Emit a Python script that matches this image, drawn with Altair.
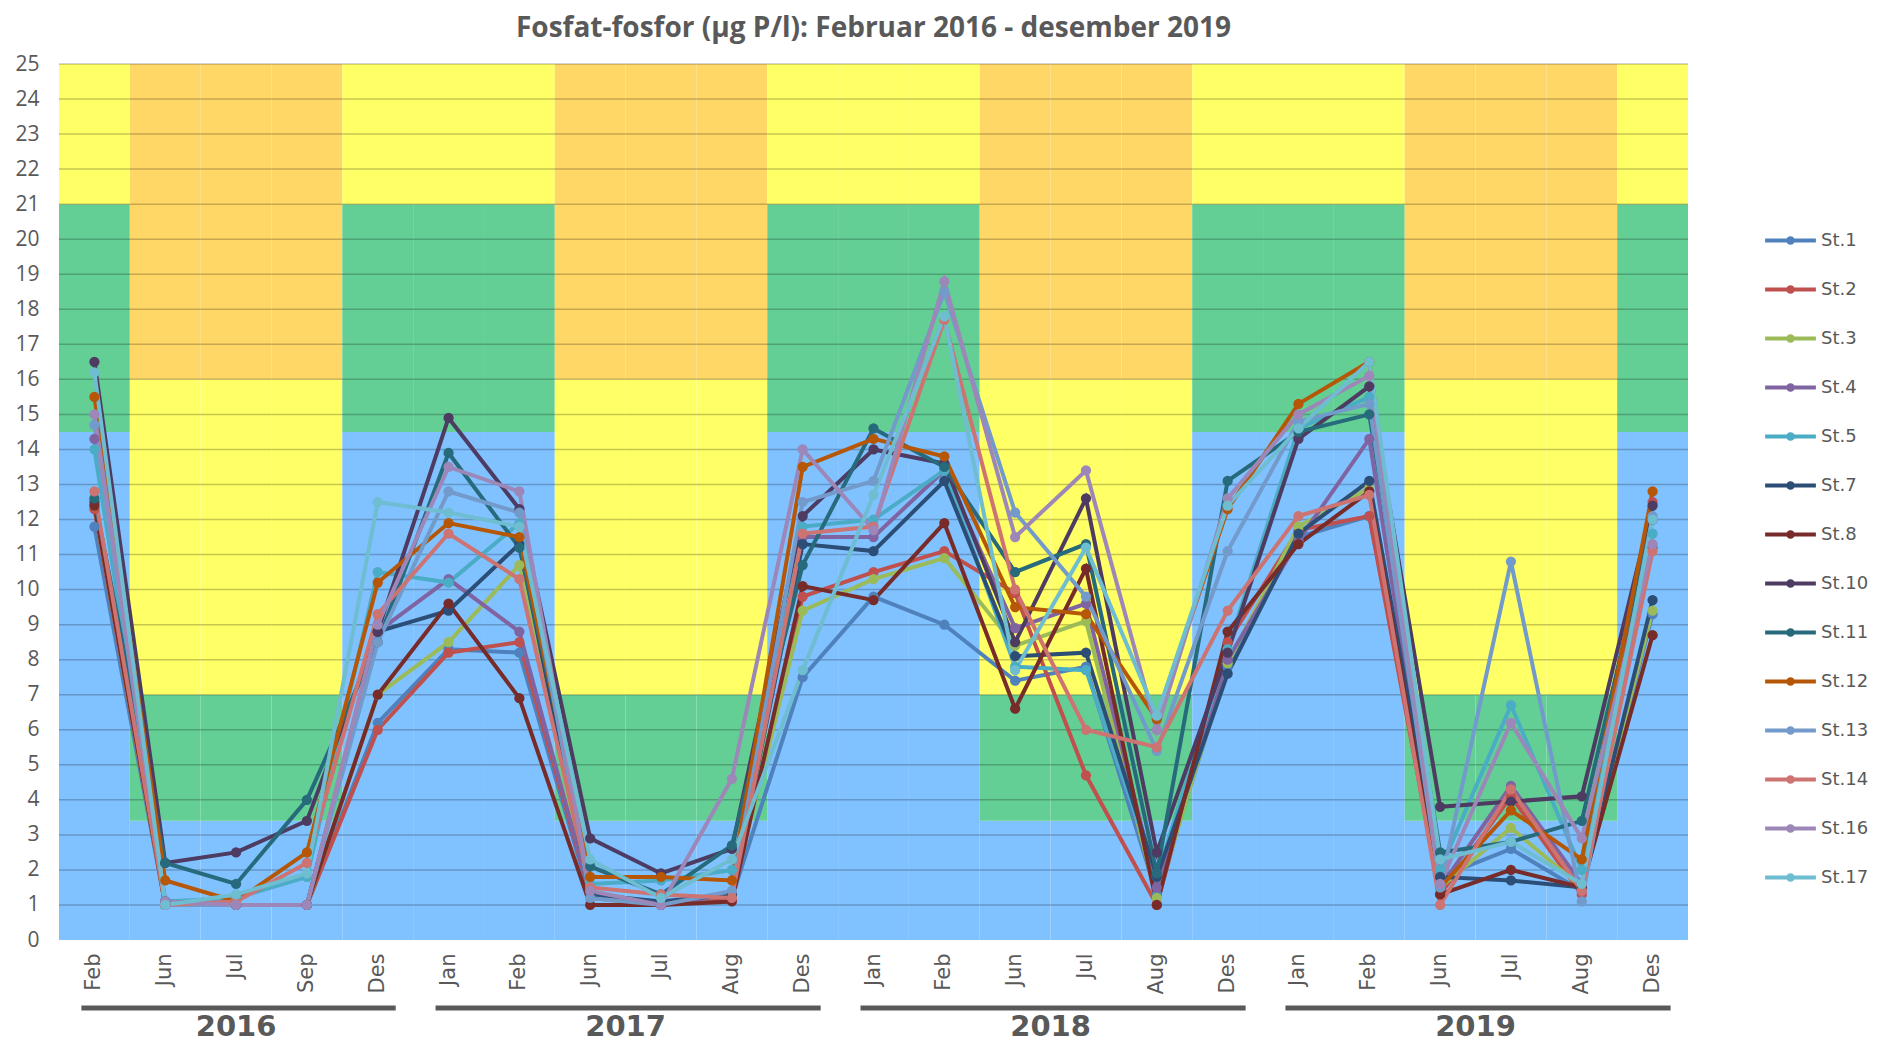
import altair as alt
import pandas as pd

# ---------------- data ----------------
years = ["2016", "2017", "2018", "2019"]
months_by_year = [
    ["Feb", "Jun", "Jul", "Sep", "Des"],
    ["Jan", "Feb", "Jun", "Jul", "Aug", "Des"],
    ["Jan", "Feb", "Jun", "Jul", "Aug", "Des"],
    ["Jan", "Feb", "Jun", "Jul", "Aug", "Des"],
]
stations = ["St.1", "St.2", "St.3", "St.4", "St.5", "St.7", "St.8",
            "St.10", "St.11", "St.12", "St.13", "St.14", "St.16", "St.17"]
colors = ["#4F81BD", "#C0504D", "#9BBB59", "#8064A2", "#4BACC6", "#2C4D75", "#772C2A",
          "#4D3B62", "#276A7C", "#B65708", "#729ACA", "#CD7371", "#9C87B8", "#6EBDD1"]

st1  = [11.8, 1.0, 1.0, 1.0, 6.2, 8.3, 8.2, 1.2, 1.0, 1.2, 7.5, 9.8, 9.0, 7.4, 7.8, 1.3, 7.8, 11.5, 12.1, 1.8, 2.6, 1.4, 9.3]
st2  = [12.3, 1.0, 1.0, 1.0, 6.0, 8.2, 8.5, 1.3, 1.0, 1.2, 9.8, 10.5, 11.1, 9.9, 4.7, 1.0, 8.5, 11.7, 12.1, 1.3, 4.1, 1.3, 12.5]
st3  = [12.4, 1.0, 1.0, 1.0, 7.0, 8.5, 10.7, 1.2, 1.0, 1.3, 9.4, 10.3, 10.9, 8.4, 9.1, 1.2, 7.9, 11.8, 12.9, 1.5, 3.2, 1.5, 9.4]
st4  = [14.3, 1.0, 1.0, 1.0, 8.8, 10.3, 8.8, 1.3, 1.0, 1.3, 11.5, 11.5, 13.4, 8.9, 9.6, 1.5, 8.0, 11.4, 14.3, 1.5, 4.4, 1.6, 11.2]
st5  = [14.0, 1.1, 1.2, 1.8, 10.5, 10.2, 11.9, 1.6, 1.7, 2.0, 11.8, 12.0, 13.4, 7.8, 7.7, 1.8, 8.3, 14.6, 15.5, 2.0, 6.7, 2.0, 11.6]
st7  = [12.5, 1.1, 1.0, 1.0, 8.8, 9.4, 11.3, 1.3, 1.1, 1.3, 11.3, 11.1, 13.1, 8.1, 8.2, 1.8, 7.6, 11.6, 13.1, 1.8, 1.7, 1.5, 9.7]
st8  = [12.4, 1.0, 1.0, 1.0, 7.0, 9.6, 6.9, 1.0, 1.0, 1.1, 10.1, 9.7, 11.9, 6.6, 10.6, 1.0, 8.8, 11.3, 12.8, 1.3, 2.0, 1.5, 8.7]
st10 = [16.5, 2.2, 2.5, 3.4, 8.8, 14.9, 12.3, 2.9, 1.9, 2.6, 12.1, 14.0, 13.6, 8.5, 12.6, 2.5, 8.2, 14.3, 15.8, 3.8, 3.95, 4.1, 12.4]
st11 = [12.6, 2.2, 1.6, 4.0, 8.5, 13.9, 11.2, 2.1, 1.3, 2.7, 10.7, 14.6, 13.5, 10.5, 11.3, 1.9, 13.1, 14.5, 15.0, 2.5, 2.8, 3.4, 12.0]
st12 = [15.5, 1.7, 1.1, 2.5, 10.2, 11.9, 11.5, 1.8, 1.8, 1.7, 13.5, 14.3, 13.8, 9.5, 9.3, 6.3, 12.3, 15.3, 16.5, 1.5, 3.7, 2.3, 12.8]
st13 = [14.7, 1.0, 1.0, 1.0, 8.5, 12.8, 12.2, 1.2, 1.0, 1.4, 12.5, 13.1, 18.5, 12.2, 9.8, 5.4, 11.1, 14.8, 15.3, 1.5, 10.8, 1.1, 12.1]
st14 = [12.8, 1.0, 1.1, 2.2, 9.3, 11.6, 10.3, 1.5, 1.3, 1.2, 11.6, 11.8, 17.7, 10.0, 6.0, 5.5, 9.4, 12.1, 12.7, 1.0, 4.3, 1.4, 11.1]
st16 = [15.0, 1.1, 1.0, 1.0, 9.0, 13.5, 12.8, 1.4, 1.0, 4.6, 14.0, 11.7, 18.8, 11.5, 13.4, 6.0, 12.6, 15.0, 16.1, 1.6, 6.2, 2.9, 11.3]
st17 = [16.2, 1.0, 1.3, 1.9, 12.5, 12.2, 11.8, 2.3, 1.2, 2.3, 7.7, 12.7, 17.8, 7.7, 11.2, 6.4, 12.4, 14.6, 16.5, 2.3, 2.8, 1.6, 12.0]
series = [st1, st2, st3, st4, st5, st7, st8, st10, st11, st12, st13, st14, st16, st17]

# class limits (µg P/l) for winter (Des-Feb) and summer (Jun-Aug/Sep)
winter_limits = [0, 14.5, 21, 25]
winter_colors = ["#80C1FF", "#63CF95", "#FFFF66"]
summer_limits = [0, 3.4, 7, 16, 25]
summer_colors = ["#80C1FF", "#63CF95", "#FFFF66", "#FFD766"]
winter_months = ["Des", "Jan", "Feb"]

grid_levels = list(range(1, 26))
y_ticks = list(range(0, 26))
title_text = "Fosfat-fosfor (µg P/l): Februar 2016 - desember 2019"

# ---------------- tables ----------------
keys = []
for y, ms in zip(years, months_by_year):
    for m in ms:
        keys.append(f"{y}-{m}")

long_rows = []
for st, vals in zip(stations, series):
    for k, v in zip(keys, vals):
        long_rows.append({"cat": k, "station": st, "value": v})
df = pd.DataFrame(long_rows)

band_rows = []
for k in keys:
    m = k.split("-")[1]
    if m in winter_months:
        lims, cols = winter_limits, winter_colors
    else:
        lims, cols = summer_limits, summer_colors
    for i in range(len(cols)):
        band_rows.append({"cat": k, "lo": lims[i], "hi": lims[i + 1], "col": cols[i]})
bands = pd.DataFrame(band_rows)

grid_df = pd.DataFrame({"level": grid_levels})

year_rows = []
for y, ms in zip(years, months_by_year):
    year_rows.append({"year": y, "first": f"{y}-{ms[0]}", "last": f"{y}-{ms[-1]}",
                      "mid": f"{y}-Jul", "odd": len(ms) % 2 == 1})
years_df = pd.DataFrame(year_rows)

W, H = 1629, 876
grey = "#595959"

xscale = alt.Scale(domain=keys, paddingInner=0, paddingOuter=0)
yscale = alt.Scale(domain=[0, 25], nice=False, zero=True)

xaxis = alt.Axis(labelExpr="split(datum.label, '-')[1]", labelAngle=270,
                 labelFont="DejaVu Sans", labelFontSize=21, labelColor=grey,
                 ticks=False, domain=False, grid=False, labelPadding=13, title=None)
yaxis = alt.Axis(values=y_ticks, labelFont="Open Sans", labelFontSize=21, labelColor=grey,
                 labelOverlap=False, ticks=False, domain=False, grid=False,
                 labelPadding=20, title=None)

bg = alt.Chart(bands).mark_rect().encode(
    x=alt.X("cat:N", scale=xscale, sort=keys, axis=xaxis),
    y=alt.Y("lo:Q", scale=yscale, axis=yaxis),
    y2="hi:Q",
    fill=alt.Fill("col:N", scale=None, legend=None),
)

grid = alt.Chart(grid_df).mark_rule(color="#000000", opacity=0.22, strokeWidth=1.5).encode(
    y=alt.Y("level:Q", scale=yscale, axis=yaxis),
    x=alt.value(0), x2=alt.value(W),
)

color_scale = alt.Scale(domain=stations, range=colors)
# line with a dot (dot drawn as a thick-stroked small circle)
sym = "M-1.08,0L1.08,0M-0.1,0A0.1,0.1 0 1,1 0.1,0A0.1,0.1 0 1,1 -0.1,0"
legend = alt.Legend(title=None, orient="none", legendX=1706, legendY=151,
                    symbolType=sym, symbolSize=2209, symbolStrokeWidth=4,
                    labelFont="DejaVu Sans", labelFontSize=18, labelColor=grey,
                    labelOffset=5, rowPadding=13, padding=0)

lines = alt.Chart(df).mark_line(strokeWidth=4).encode(
    x=alt.X("cat:N", scale=xscale, sort=keys, axis=xaxis),
    y=alt.Y("value:Q", scale=yscale, axis=yaxis),
    color=alt.Color("station:N", scale=color_scale, sort=stations, legend=legend),
)

points = alt.Chart(df).mark_circle(size=105, opacity=1).encode(
    x=alt.X("cat:N", scale=xscale, sort=keys, axis=xaxis),
    y=alt.Y("value:Q", scale=yscale, axis=yaxis),
    color=alt.Color("station:N", scale=color_scale, sort=stations, legend=legend),
)

yearbars = alt.Chart(years_df).mark_rule(color=grey, strokeWidth=5, xOffset=-13, x2Offset=18).encode(
    x=alt.X("first:N", scale=xscale, sort=keys, axis=xaxis),
    x2="last:N",
    y=alt.value(944),
)

yeartext_odd = alt.Chart(years_df).transform_filter("datum.odd").mark_text(
    font="DejaVu Sans", fontWeight="bold", fontSize=29, color=grey, baseline="alphabetic"
).encode(
    x=alt.X("mid:N", scale=xscale, sort=keys, axis=xaxis),
    y=alt.value(972),
    text="year:N",
)
yeartext_even = alt.Chart(years_df).transform_filter("!datum.odd").mark_text(
    font="DejaVu Sans", fontWeight="bold", fontSize=29, color=grey, baseline="alphabetic"
).encode(
    x=alt.X("mid:N", scale=xscale, sort=keys, bandPosition=0, axis=xaxis),
    y=alt.value(972),
    text="year:N",
)

title_df = pd.DataFrame({"t": [title_text]})
title = alt.Chart(title_df).mark_text(
    font="Open Sans", fontWeight="bold", fontSize=28, color=grey,
    baseline="alphabetic", align="center"
).encode(x=alt.value(W / 2), y=alt.value(-27), text="t:N")

chart = alt.layer(bg, grid, lines, points, yearbars, yeartext_odd, yeartext_even, title).properties(
    width=W, height=H,
    autosize=alt.AutoSizeParams(type="none"),
    padding={"left": 51, "top": 56, "right": 180, "bottom": 104},
).configure_view(stroke=None)

chart.save("out.html", embed_options={"renderer": "svg", "actions": False})
